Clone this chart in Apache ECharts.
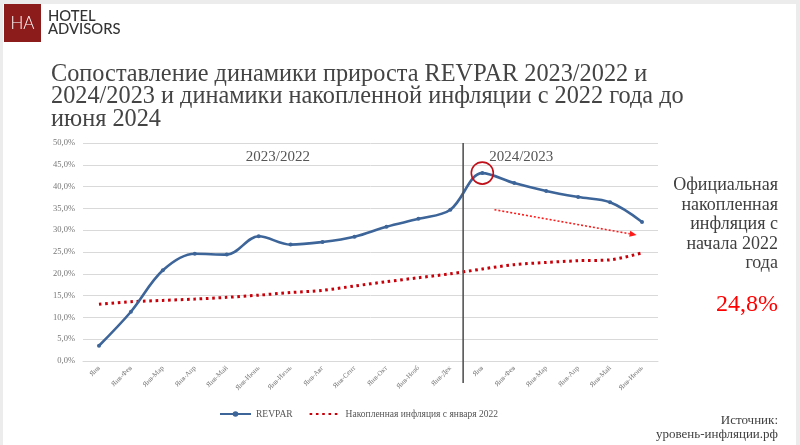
<!DOCTYPE html>
<html><head><meta charset="utf-8">
<script src="https://cdn.jsdelivr.net/npm/echarts@6/dist/echarts.min.js"></script>
<style>
html,body{margin:0;padding:0;background:#ececec;}
#wrap{position:absolute;left:3px;top:4px;width:793px;height:441px;background:#fff;}
#c{position:absolute;left:0;top:0;width:800px;height:445px;}
</style></head>
<body><div id="wrap"></div><div id="c"></div>
<script>
const categories = ['Янв','Янв-Фев','Янв-Мар','Янв-Апр','Янв-Май','Янв-Июнь','Янв-Июль','Янв-Авг','Янв-Сент','Янв-Окт','Янв-Нояб','Янв-Дек','Янв','Янв-Фев','Янв-Мар','Янв-Апр','Янв-Май','Янв-Июнь'];
const revpar = [3.5, 11.3, 20.8, 24.6, 24.4, 28.6, 26.7, 27.3, 28.5, 30.8, 32.6, 34.7, 43.1, 40.8, 39.0, 37.6, 36.4, 31.9];
const inflation = [13.0, 13.6, 13.9, 14.2, 14.6, 15.1, 15.7, 16.2, 17.2, 18.2, 19.1, 20.0, 21.1, 22.1, 22.6, 23.0, 23.2, 24.8];
const seriesNames = ['REVPAR', 'Накопленная инфляция с января 2022'];
const periodLabels = ['2023/2022', '2024/2023'];
const titleText = 'Сопоставление динамики прироста REVPAR 2023/2022 и\n2024/2023 и динамики накопленной инфляции с 2022 года до\nиюня 2024';
const sideText = 'Официальная\nнакопленная\nинфляция с\nначала 2022\nгода';
const sideValue = '24,8%';
const sourceText = 'Источник:\nуровень-инфляции.рф';
const highlightIndex = 12;
const separatorPos = 11.4;
const arrowFrom = [12.38, 34.7];
const arrowTo = [16.83, 28.9];

const SERIF = '"Liberation Serif", "DejaVu Serif", serif';
const chart = echarts.init(document.getElementById('c'), null, {renderer: 'canvas'});

const option = {
  backgroundColor: 'transparent',
  animation: false,
  title: {
    text: titleText, left: 46, top: 58,
    textStyle: {fontFamily: SERIF, fontSize: 24.3, fontWeight: 'normal', color: '#444', lineHeight: 22.5}
  },
  grid: {left: 83, right: 142, top: 143, bottom: 84, containLabel: false},
  legend: {
    data: [{name: seriesNames[0]}, {name: seriesNames[1], itemStyle: {opacity: 0}}],
    left: 214, top: 404, itemWidth: 31, itemHeight: 7, itemGap: 16,
    textStyle: {fontFamily: SERIF, fontSize: 9.5, color: '#555'}
  },
  xAxis: {
    type: 'category', data: categories, boundaryGap: true,
    axisLine: {lineStyle: {color: '#d9d9d9'}}, axisTick: {show: false},
    axisLabel: {rotate: 45, interval: 0, fontFamily: SERIF, fontSize: 7, color: '#777', margin: 6}
  },
  yAxis: {
    type: 'value', min: 0, max: 50, interval: 5,
    axisLine: {show: false}, axisTick: {show: false},
    splitLine: {lineStyle: {color: '#d9d9d9', width: 1}},
    axisLabel: {fontFamily: SERIF, fontSize: 8.5, color: '#777', margin: 8,
      formatter: v => v.toFixed(1).replace('.', ',') + '%'}
  },
  series: [
    {
      name: seriesNames[0], type: 'line', data: revpar, smooth: 0.35,
      symbol: 'circle', symbolSize: 4, showSymbol: true,
      lineStyle: {color: '#3d6599', width: 2.6}, itemStyle: {color: '#3d6599'},
      markPoint: {
        symbol: 'circle', symbolSize: 22, silent: true,
        itemStyle: {color: 'rgba(0,0,0,0)', borderColor: '#c0101a', borderWidth: 1.6},
        label: {show: false},
        data: [{coord: [highlightIndex, revpar[highlightIndex]]}]
      },
      z: 3
    },
    {
      name: seriesNames[1], type: 'line', data: inflation, smooth: 0.3,
      symbol: 'none', showSymbol: false,
      lineStyle: {color: '#c8000a', width: 3, type: [2.6, 3.7], cap: 'butt'},
      itemStyle: {color: '#c8000a'},
      z: 2
    }
  ]
};
chart.setOption(option);

function px(xIdx, yVal) {
  const i0 = Math.floor(xIdx), i1 = Math.min(i0 + 1, categories.length - 1);
  const p0 = chart.convertToPixel({gridIndex: 0}, [i0, yVal]);
  const p1 = chart.convertToPixel({gridIndex: 0}, [i1, yVal]);
  const f = xIdx - i0;
  return [p0[0] + (p1[0] - p0[0]) * f, p0[1]];
}
const bottom0 = px(0, 0)[1];
const sepTop = px(separatorPos, 50);
const periodY = px(0, 46.8)[1];
const a0 = px(arrowFrom[0], arrowFrom[1]);
const a1 = px(arrowTo[0], arrowTo[1]);
const ang = Math.atan2(a1[1] - a0[1], a1[0] - a0[0]);
const ah = 7, aw = 3;
const tip = a1;
const base = [tip[0] - ah * Math.cos(ang), tip[1] - ah * Math.sin(ang)];
const arrowHead = [
  tip,
  [base[0] + aw * Math.sin(ang), base[1] - aw * Math.cos(ang)],
  [base[0] - aw * Math.sin(ang), base[1] + aw * Math.cos(ang)]
];
const leftC = px(5.6, 0)[0];
const rightC = px(13.22, 0)[0];

chart.setOption({
  graphic: [
    {type: 'rect', shape: {x: 4, y: 4, width: 37, height: 38}, style: {fill: '#8c1c1c'}},
    {type: 'text', x: 22.5, y: 23.5, style: {text: 'HA', fill: '#fff', font: '300 17px Lato, sans-serif', textAlign: 'center', textVerticalAlign: 'middle'}},
    {type: 'text', x: 48, y: 10, style: {text: 'HOTEL\nADVISORS', fill: '#333', font: '500 14.8px Lato, sans-serif', lineHeight: 12.5}},
    {type: 'line', shape: {x1: sepTop[0], y1: sepTop[1], x2: sepTop[0], y2: bottom0 + 22}, style: {stroke: '#555', lineWidth: 1.6}, z: 10},
    {type: 'text', x: leftC, y: periodY, style: {text: periodLabels[0], fill: '#555', font: '15px ' + SERIF, textAlign: 'center', textVerticalAlign: 'middle'}},
    {type: 'text', x: rightC, y: periodY, style: {text: periodLabels[1], fill: '#555', font: '15px ' + SERIF, textAlign: 'center', textVerticalAlign: 'middle'}},
    {type: 'line', shape: {x1: a0[0], y1: a0[1], x2: base[0], y2: base[1]}, style: {stroke: '#ff1a1a', lineWidth: 1.6, lineDash: [2, 2]}, z: 10},
    {type: 'polygon', shape: {points: arrowHead}, style: {fill: '#ff1a1a'}, z: 10},
    {type: 'text', x: 778, y: 176, style: {text: sideText, fill: '#404040', font: '18px ' + SERIF, textAlign: 'right', lineHeight: 19.5}},
    {type: 'text', x: 778, y: 305, style: {text: sideValue, fill: '#ff0000', font: '24px ' + SERIF, textAlign: 'right', textVerticalAlign: 'middle'}},
    {type: 'text', x: 778, y: 414, style: {text: sourceText, fill: '#404040', font: '13px ' + SERIF, textAlign: 'right', lineHeight: 14}}
  ]
});
</script>
</body></html>
